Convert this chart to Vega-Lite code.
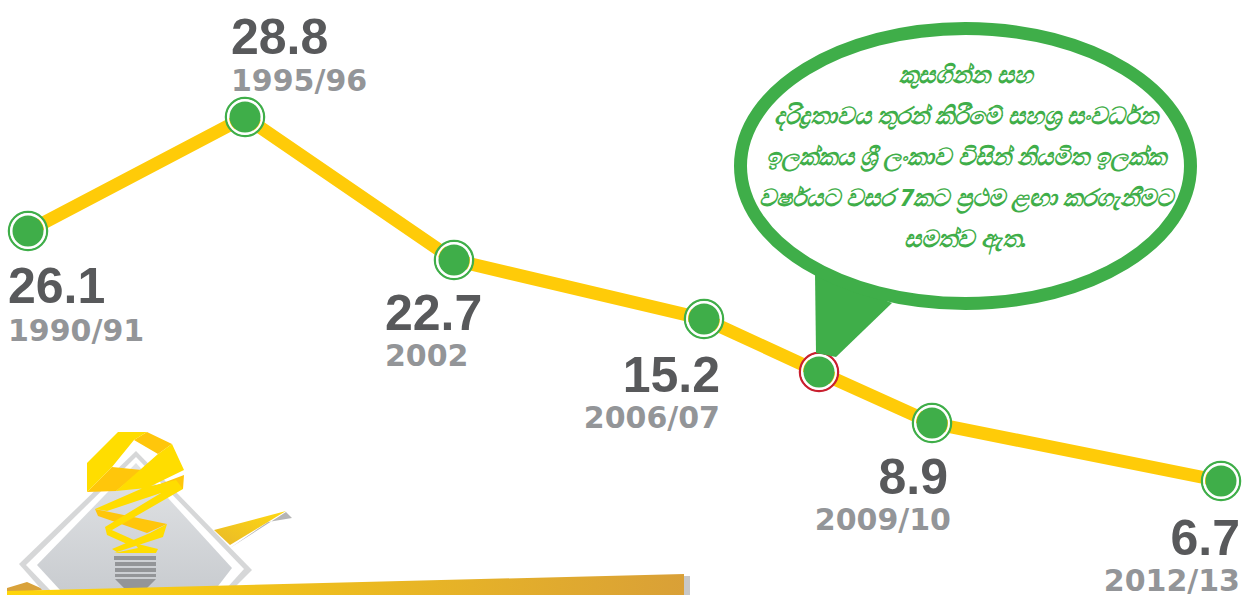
{
"$schema":"https://vega.github.io/schema/vega-lite/v6.json",
"width":1242,"height":595,"padding":0,"autosize":{"type":"none"},"background":"white",
"view":{"stroke":null},
"data":{"values":[
{"period":"1990/91","year":1990.5,"value":26.1,"highlight":false},
{"period":"1995/96","year":1995.5,"value":28.8,"highlight":false},
{"period":"2002","year":2002,"value":22.7,"highlight":false},
{"period":"2006/07","year":2006.5,"value":15.2,"highlight":false},
{"period":"target","year":2008,"value":13.05,"highlight":true},
{"period":"2009/10","year":2009.5,"value":8.9,"highlight":false},
{"period":"2012/13","year":2012.5,"value":6.7,"highlight":false}
]},
"encoding":{
"x":{"field":"year","type":"quantitative","axis":null,"scale":{"domain":[1990.5,1995.5,2002,2006.5,2008,2009.5,2012.5],"range":[28,245,454,704,819,932,1221],"nice":false,"zero":false}},
"y":{"field":"value","type":"quantitative","axis":null,"scale":{"domain":[6.7,8.9,13.05,15.2,22.7,26.1,28.8],"range":[481,423,372,319,260,231,117],"nice":false,"zero":false}}
},
"layer":[
{"transform":[{"filter":"datum.period==='1990/91'"}],"mark":{"type":"point","filled":true,"opacity":1,"size":4,"fill":"#D9A23A","stroke":null,"shape":"M-21,357L-1,351L17,359L-21,362Z"}},
{"transform":[{"filter":"datum.period==='1990/91'"}],"mark":{"type":"point","filled":true,"opacity":1,"size":4,"fill":"#B5B5B5","stroke":null,"shape":"M258,281L264,287L240,291L202,317Z"}},
{"transform":[{"filter":"datum.period==='1990/91'"}],"mark":{"type":"point","filled":true,"opacity":1,"size":4,"fill":{"gradient":"linear","x1":1,"y1":0,"x2":0,"y2":1,"stops":[{"offset":0,"color":"#FFD90F"},{"offset":1,"color":"#E9B92A"}]},"stroke":null,"shape":"M186,299L258,280L202,314Z"}},
{"transform":[{"filter":"datum.period==='1990/91'"}],"mark":{"type":"point","filled":true,"opacity":1,"size":4,"fill":"#D6D7D8","stroke":null,"shape":"M108,220L224,339L204,359L14,359L-9,333Z"}},
{"transform":[{"filter":"datum.period==='1990/91'"}],"mark":{"type":"point","filled":true,"opacity":1,"size":4,"fill":"#FFFFFF","stroke":null,"shape":"M108,226L216,338L197,359L22,359L-2,334Z"}},
{"transform":[{"filter":"datum.period==='1990/91'"}],"mark":{"type":"point","filled":true,"opacity":1,"size":4,"fill":{"gradient":"linear","x1":0,"y1":0,"x2":0,"y2":1,"stops":[{"offset":0,"color":"#E2E4E6"},{"offset":1,"color":"#C9CCD0"}]},"stroke":null,"shape":"M108,232L204,337L187,359L32,359L9,334Z"}},
{"transform":[{"filter":"datum.period==='1990/91'"}],"mark":{"type":"point","filled":true,"opacity":1,"size":4,"fill":"#939598","stroke":null,"shape":"M86,325L128,325L128,329L86,329ZM87,331L128,331L128,335L87,335ZM87,337L128,337L128,341L87,341ZM87,343L128,343L128,346L87,346ZM87,348L128,348L119,357L96,357Z"}},
{"transform":[{"filter":"datum.period==='1990/91'"}],"mark":{"type":"point","filled":true,"opacity":1,"size":4,"fill":"#FFC60B","stroke":null,"shape":"M119,201L144,213L130,223L106,209ZM59,261L84,236L114,239L88,260ZM119,258L156,244L155,258ZM67,278L139,293L119,302L70,285Z"}},
{"transform":[{"filter":"datum.period==='1990/91'"}],"mark":{"type":"point","filled":true,"opacity":1,"size":4,"fill":"#FFDD00","stroke":null,"shape":"M59,232L90,201L119,201L106,209L84,236L59,261ZM144,213L156,239L119,257L88,260L130,223ZM67,278L115,257L148,249L155,258L84,299L77,296L133,262L79,280ZM77,296L106,309L99,313L79,304ZM139,293L135,306L89,321L84,318L122,302ZM106,312L130,318L128,322L86,322L110,317Z"}},
{"transform":[{"filter":"datum.period==='1990/91'"}],"mark":{"type":"point","filled":true,"opacity":1,"size":4,"fill":"#C8C8C8","stroke":null,"shape":"M656,345L662,345L662,364L656,364Z"}},
{"transform":[{"filter":"datum.period==='1990/91'"}],"mark":{"type":"point","filled":true,"opacity":1,"size":4,"fill":{"gradient":"linear","x1":0,"y1":0,"x2":1,"y2":0,"stops":[{"offset":0,"color":"#FFD60A"},{"offset":1,"color":"#D9A037"}]},"stroke":null,"shape":"M-21,360L656,343L656,364L-21,364Z"}},
{"mark":{"type":"line","color":"#FFCB08","strokeWidth":13,"strokeJoin":"miter"}},
{"mark":{"type":"point","filled":true,"opacity":1,"size":1444,"fill":"white","fillOpacity":0,"shape":"circle","strokeWidth":2.5},"encoding":{"stroke":{"condition":{"test":"datum.highlight","value":"#C9202F"},"value":"#3FAE49"}}},
{"mark":{"type":"point","filled":true,"opacity":1,"size":1156,"fillOpacity":0,"stroke":"white","shape":"circle","strokeWidth":2}},
{"transform":[{"filter":"datum.highlight"}],"mark":{"type":"point","filled":true,"opacity":1,"size":4,"fill":"#3FAE49","stroke":null,"shape":"M-4,-99L73,-69L17,-15L-3,-19Z"}},
{"transform":[{"filter":"datum.highlight"}],"mark":{"type":"point","filled":false,"opacity":1,"size":4,"fill":"white","fillOpacity":1,"stroke":"#3FAE49","strokeWidth":13,"shape":"M-78.5,-206A225,137.5,0,1,1,371.5,-206A225,137.5,0,1,1,-78.5,-206Z"}},
{"mark":{"type":"point","filled":true,"opacity":1,"size":961,"fill":"#3FAE49","stroke":null,"shape":"circle"}},
{"data":{"values":[{"year":2008,"value":13.05,"note":"කුසගින්න සහ\nදරිද්‍රතාවය තුරන් කිරීමේ සහශ්‍ර සංවර්ධන\nඉලක්කය ශ්‍රී ලංකාව විසින් නියමිත ඉලක්ක\nවර්ෂයට වසර 7කට ප්‍රථම ළඟා කරගැනීමට\nසමත්ව ඇත."}]},"mark":{"type":"text","lineBreak":"\n","lineHeight":41,"align":"center","baseline":"alphabetic","dx":147,"dy":-289,"fontSize":24,"fontStyle":"italic","fontWeight":"bold","color":"#3FAE49","font":"Noto Sans"},"encoding":{"text":{"field":"note"}}},

{"transform":[{"filter":"datum.period==='1990/91'"}],"mark":{"type":"text","align":"left","baseline":"alphabetic","dx":-20,"dy":72,"font":"Liberation Sans","fontSize":50,"fontWeight":"bold","color":"#58595B"},"encoding":{"text":{"field":"value","format":".1f"}}},
{"transform":[{"filter":"datum.period==='1995/96'"}],"mark":{"type":"text","align":"left","baseline":"alphabetic","dx":-14,"dy":-63,"font":"Liberation Sans","fontSize":50,"fontWeight":"bold","color":"#58595B"},"encoding":{"text":{"field":"value","format":".1f"}}},
{"transform":[{"filter":"datum.period==='2002'"}],"mark":{"type":"text","align":"left","baseline":"alphabetic","dx":-69,"dy":70,"font":"Liberation Sans","fontSize":50,"fontWeight":"bold","color":"#58595B"},"encoding":{"text":{"field":"value","format":".1f"}}},
{"transform":[{"filter":"datum.period==='2006/07'"}],"mark":{"type":"text","align":"right","baseline":"alphabetic","dx":16,"dy":73,"font":"Liberation Sans","fontSize":50,"fontWeight":"bold","color":"#58595B"},"encoding":{"text":{"field":"value","format":".1f"}}},
{"transform":[{"filter":"datum.period==='2009/10'"}],"mark":{"type":"text","align":"right","baseline":"alphabetic","dx":16,"dy":71,"font":"Liberation Sans","fontSize":50,"fontWeight":"bold","color":"#58595B"},"encoding":{"text":{"field":"value","format":".1f"}}},
{"transform":[{"filter":"datum.period==='2012/13'"}],"mark":{"type":"text","align":"right","baseline":"alphabetic","dx":19,"dy":74,"font":"Liberation Sans","fontSize":50,"fontWeight":"bold","color":"#58595B"},"encoding":{"text":{"field":"value","format":".1f"}}},

{"transform":[{"filter":"datum.period==='1990/91'"}],"mark":{"type":"text","align":"left","baseline":"alphabetic","dx":-20,"dy":110,"font":"DejaVu Sans","fontSize":30,"fontWeight":"bold","color":"#939598"},"encoding":{"text":{"field":"period"}}},
{"transform":[{"filter":"datum.period==='1995/96'"}],"mark":{"type":"text","align":"left","baseline":"alphabetic","dx":-14,"dy":-26,"font":"DejaVu Sans","fontSize":30,"fontWeight":"bold","color":"#939598"},"encoding":{"text":{"field":"period"}}},
{"transform":[{"filter":"datum.period==='2002'"}],"mark":{"type":"text","align":"left","baseline":"alphabetic","dx":-69,"dy":106,"font":"DejaVu Sans","fontSize":30,"fontWeight":"bold","color":"#939598"},"encoding":{"text":{"field":"period"}}},
{"transform":[{"filter":"datum.period==='2006/07'"}],"mark":{"type":"text","align":"right","baseline":"alphabetic","dx":16,"dy":109,"font":"DejaVu Sans","fontSize":30,"fontWeight":"bold","color":"#939598"},"encoding":{"text":{"field":"period"}}},
{"transform":[{"filter":"datum.period==='2009/10'"}],"mark":{"type":"text","align":"right","baseline":"alphabetic","dx":19,"dy":107,"font":"DejaVu Sans","fontSize":30,"fontWeight":"bold","color":"#939598"},"encoding":{"text":{"field":"period"}}},
{"transform":[{"filter":"datum.period==='2012/13'"}],"mark":{"type":"text","align":"right","baseline":"alphabetic","dx":19,"dy":110,"font":"DejaVu Sans","fontSize":30,"fontWeight":"bold","color":"#939598"},"encoding":{"text":{"field":"period"}}}
]
}
